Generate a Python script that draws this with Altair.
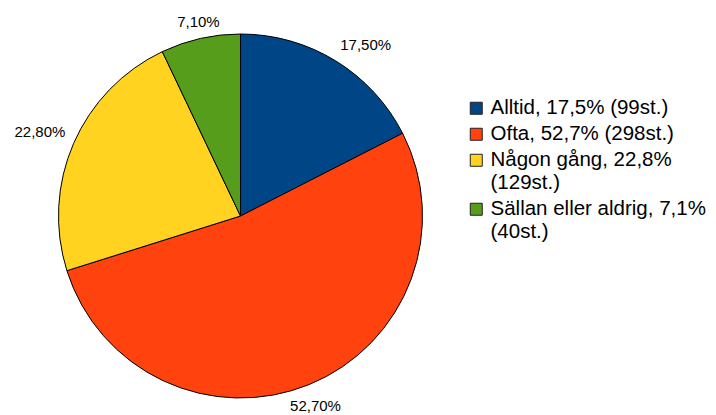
import math
import altair as alt
import pandas as pd

categories = ["Alltid", "Ofta", "Någon gång", "Sällan eller aldrig"]
counts = [99, 298, 129, 40]
percent = [17.5, 52.7, 22.8, 7.1]
slice_labels = ["17,50%", "52,70%", "22,80%", "7,10%"]
colors = ["#004586", "#ff420e", "#ffd320", "#579d1c"]


def fmt(p):
    return f"{p:.1f}".replace(".", ",")


legend_labels = []
for c, p, n in zip(categories, percent, counts):
    head = f"{c}, {fmt(p)}%"
    tail = f"({n}st.)"
    full = f"{head} {tail}"
    legend_labels.append(full if len(full) <= 22 else f"{head}|{tail}")

df = pd.DataFrame({
    "idx": list(range(len(categories))),
    "cat": categories,
    "count": counts,
    "legend": legend_labels,
    "label": slice_labels,
})
total = sum(counts)

CX, CY = 232.5, 208
R = 182
FONT = "Liberation Sans"

base = alt.Chart(df).transform_window(
    cum="sum(count)", sort=[alt.SortField("idx")], frame=[None, 0]
).transform_calculate(
    start="datum.cum - datum.count",
    mid="datum.cum - datum.count / 2",
    ang=f"(datum.cum - datum.count / 2) / {total} * 360",
)

theta_scale = alt.Scale(domain=[0, total], range=[0, 2 * math.pi])

arcs = base.mark_arc(outerRadius=R, stroke="#000", strokeWidth=1).encode(
    x=alt.value(CX),
    y=alt.value(CY),
    theta=alt.Theta("start:Q", scale=theta_scale, stack=None),
    theta2=alt.Theta2("cum:Q"),
    color=alt.Color(
        "legend:N",
        scale=alt.Scale(domain=legend_labels, range=colors),
        legend=alt.Legend(
            title=None,
            orient="none",
            legendX=458,
            legendY=90,
            symbolType="square",
            symbolSize=144,
            symbolStrokeColor="#222",
            symbolStrokeWidth=1,
            symbolOpacity=1,
            labelFont=FONT,
            labelFontSize=20.5,
            labelColor="#000",
            labelLimit=400,
            labelExpr="split(datum.label, '|')",
            rowPadding=5,
            padding=0,
            labelOffset=4,
        ),
    ),
)

pos_expr = (
    "datum.ang <= 30 || datum.ang >= 330 ? 'top' : "
    "(datum.ang >= 150 && datum.ang <= 210 ? 'bottom' : "
    "(datum.ang < 180 ? (datum.ang < 90 ? 'ru' : 'rl') : (datum.ang > 270 ? 'lu' : 'll')))"
)

placements = [
    ("top", "center", "bottom", 191),
    ("bottom", "center", "top", 198),
    ("ru", "left", "bottom", 191),
    ("rl", "left", "top", 191),
    ("lu", "right", "bottom", 191),
    ("ll", "right", "top", 191),
]

layers = [arcs]
for pos, align, baseline, rad in placements:
    layers.append(
        base.transform_calculate(pos=pos_expr)
        .transform_filter(f"datum.pos == '{pos}'")
        .mark_text(align=align, baseline=baseline, radius=rad, fontSize=15, font=FONT, color="#000")
        .encode(
            x=alt.value(CX),
            y=alt.value(CY),
            theta=alt.Theta("mid:Q", scale=theta_scale, stack=None),
            text="label:N",
        )
    )

chart = alt.layer(*layers).properties(
    width=700, height=407, padding=0, autosize="none"
).configure_view(stroke=None)

chart.save("out.html", embed_options={"renderer": "svg", "actions": False})
